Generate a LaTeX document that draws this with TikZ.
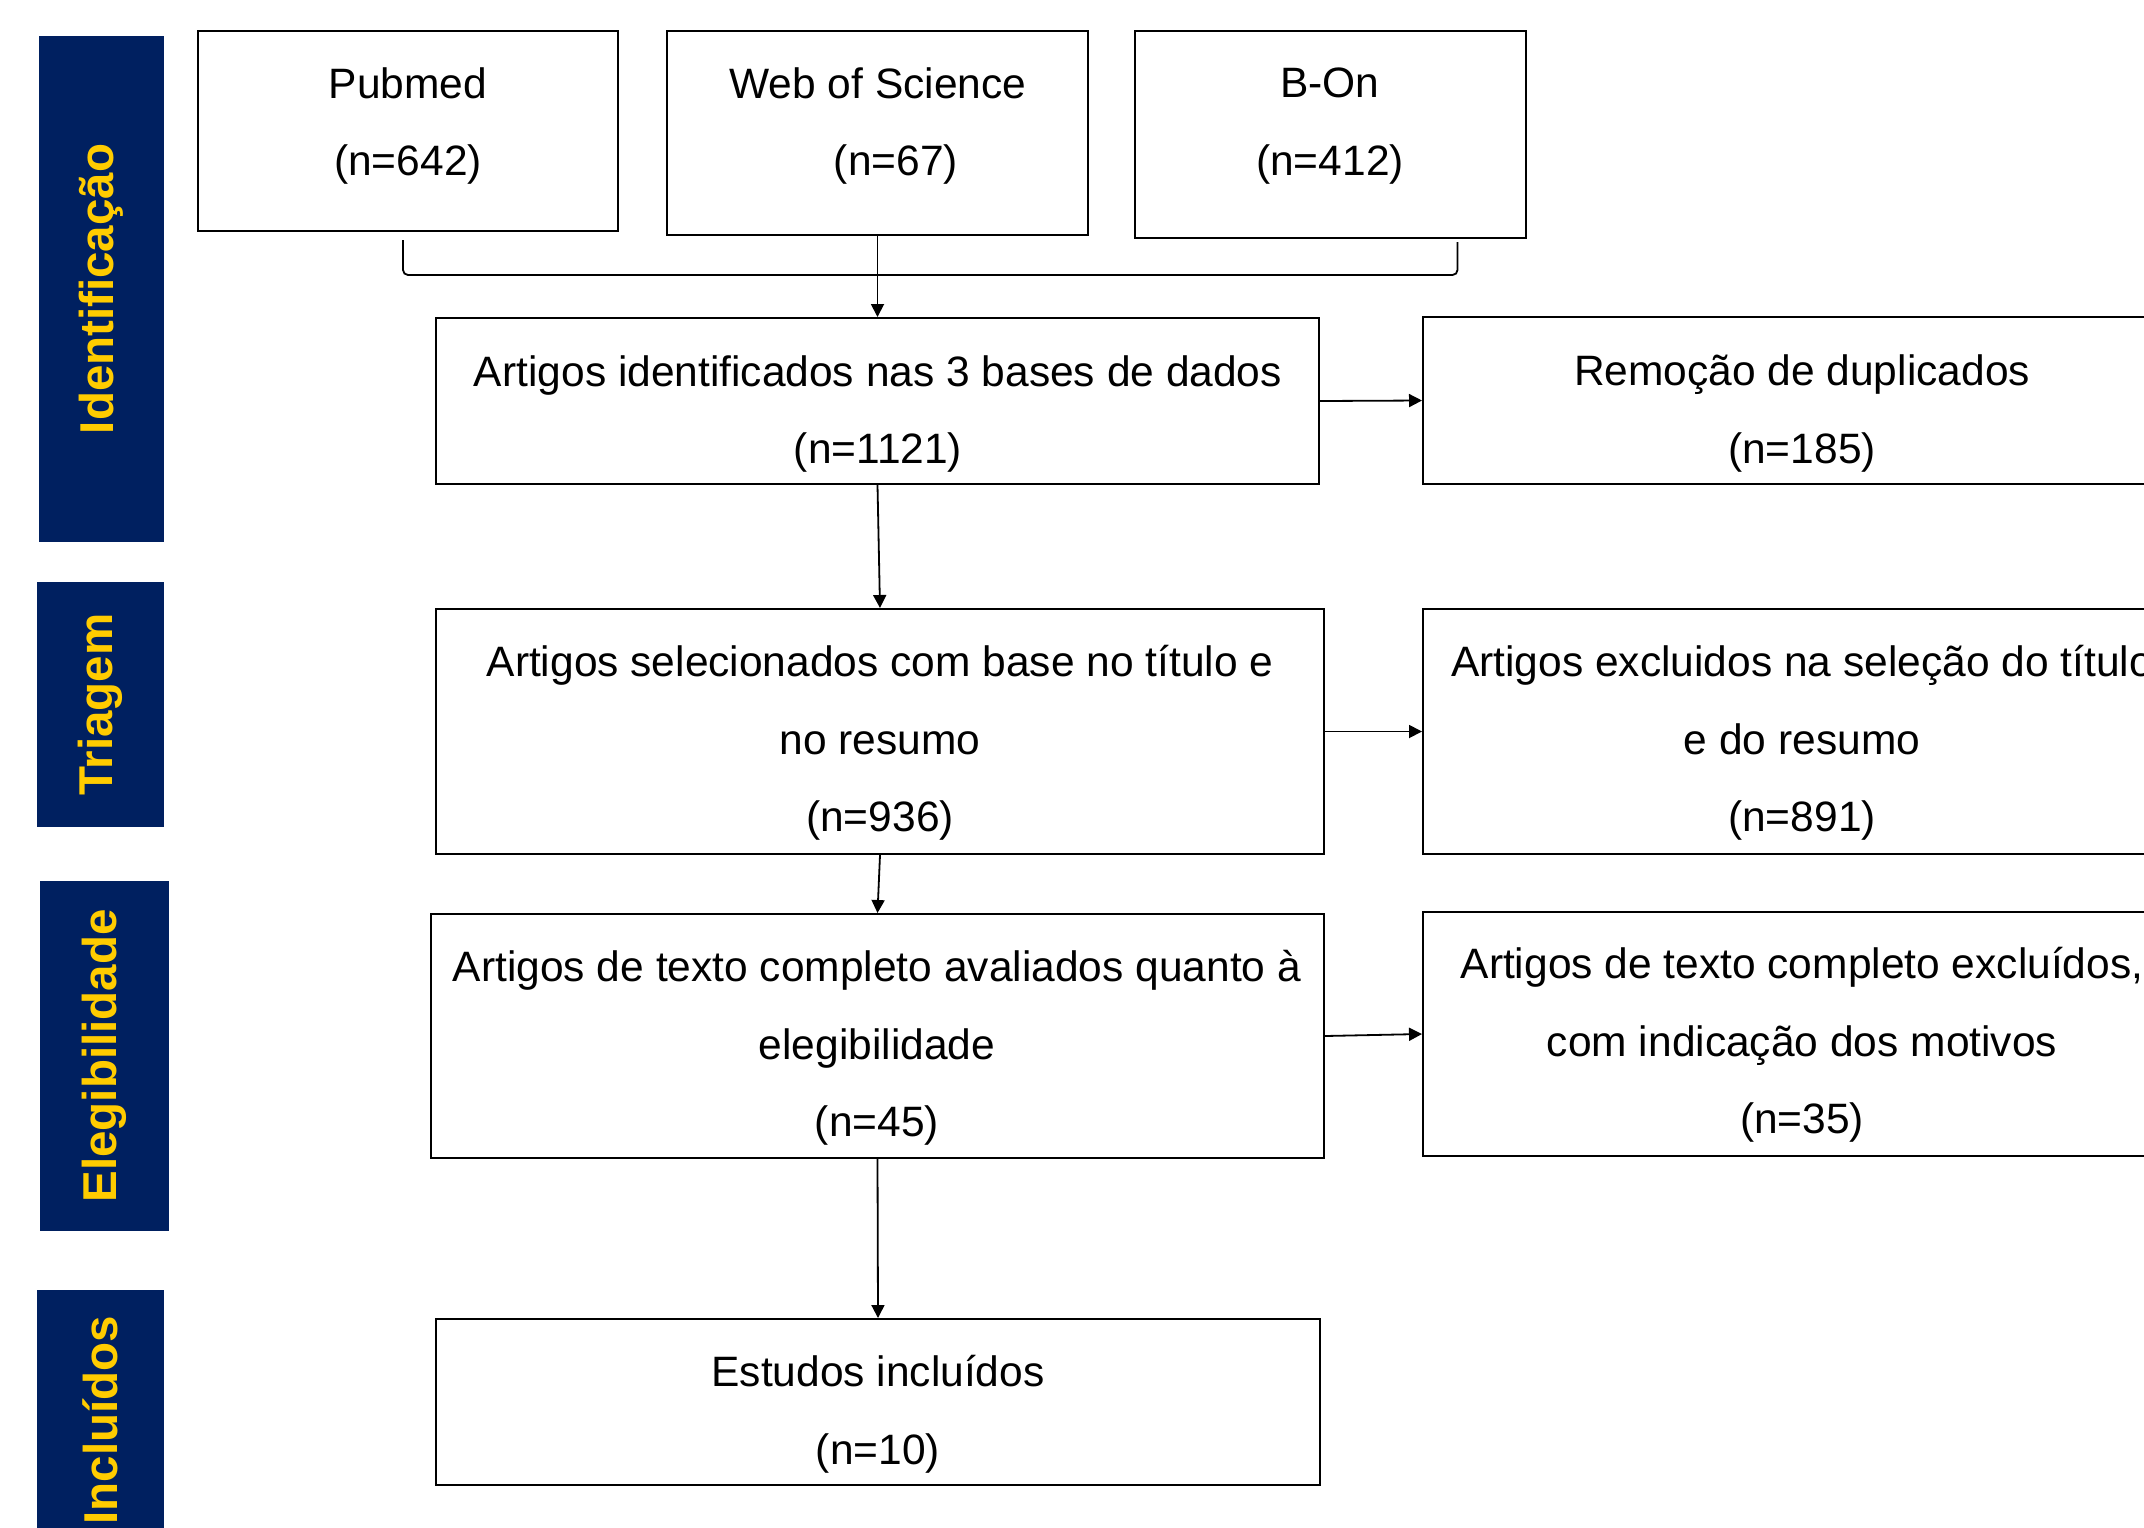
\documentclass[tikz,border=0pt]{standalone}
\usepackage{fontspec}
\setmainfont{Liberation Sans}
\usetikzlibrary{arrows.meta,calc}
\definecolor{navy}{RGB}{0,32,96}
\definecolor{gold}{RGB}{255,204,0}
\tikzset{
  box/.style={draw=black, line width=2pt, inner sep=0pt},
  txt/.style={align=center, inner sep=0pt, font=\fontsize{42.5}{77.5}\selectfont},
  bar/.style={fill=navy, draw=none, rotate=90, inner sep=0pt, text=gold,
    font=\fontsize{47.5}{57}\bfseries\selectfont},
  link/.style={line width=1.8pt},
  arr/.style={line width=1.8pt, -{Triangle[length=13pt,width=13pt]}},
}
\begin{document}
\begin{tikzpicture}[x=1pt,y=-1pt]
\useasboundingbox (0,0) rectangle (2144,1527);
\clip (0,0) rectangle (2144,1527);
\fill[white] (0,0) rectangle (2144,1527);

% side bars
\node[bar, minimum width=506, minimum height=125] (b1) at (101.5,289) {Identificação};
\node[bar, minimum width=245, minimum height=127] (b2) at (100.5,704.5) {Triagem};
\node[bar, minimum width=350, minimum height=129] (b3) at (104.5,1056) {Elegibilidade};
\node[bar, minimum width=260, minimum height=127] (b4) at (100.5,1420) {Incluídos};

% boxes
\node[box, minimum width=420, minimum height=200] (pub) at (408,131) {};
\node[box, minimum width=421, minimum height=204] (wos) at (877.5,133) {};
\node[box, minimum width=391, minimum height=207] (bon) at (1330.5,134.5) {};
\node[box, minimum width=883, minimum height=166] (ident) at (877.5,401) {};
\node[box, minimum width=758, minimum height=167] (remo) at (1802,400.5) {};
\node[box, minimum width=888, minimum height=245] (sel) at (880,731.5) {};
\node[box, minimum width=758, minimum height=245] (exc1) at (1802,731.5) {};
\node[box, minimum width=893, minimum height=244] (eleg) at (877.5,1036) {};
\node[box, minimum width=758, minimum height=244] (exc2) at (1802,1034) {};
\node[box, minimum width=884, minimum height=166] (est) at (878,1402) {};

% texts
\node[txt] (pubt) at (408,126) {Pubmed\\(n=642)};
\node[txt] (wost) at (878,126) {Web of Science\\\hspace*{36pt}(n=67)};
\node[txt] (bont) at (1330,126) {B-On\\(n=412)};
\node[txt] (identt) at (878,414) {Artigos identificados nas 3 bases de dados\\(n=1121)};
\node[txt] (remot) at (1802,413.5) {Remoção de duplicados\\(n=185)};
\node[txt] (selt) at (880,743) {Artigos selecionados com base no título e\\no resumo\\(n=936)};
\node[txt] (exc1t) at (1802,743) {Artigos excluidos na seleção do título\\e do resumo\\(n=891)};
\node[txt] (elegt) at (877,1048) {Artigos de texto completo avaliados quanto à\\elegibilidade\\(n=45)};
\node[txt] (exc2t) at (1802,1045) {Artigos de texto completo excluídos,\\com indicação dos motivos\\(n=35)};
\node[txt] (estt) at (878,1414) {Estudos incluídos\\(n=10)};

% bracket joining the three sources
\coordinate (bl) at ($(pub.south)+(-5,8)$);
\coordinate (br) at ($(bon.south)+(127,3)$);
\coordinate (hy) at (0,275);
\draw[link, rounded corners=5pt] (bl) -- (bl |- hy) -- (br |- hy) -- (br);

% arrows
\draw[arr] (wos.south) -- (ident.north);
\draw[arr] (ident.south) -- (sel.north);
\draw[arr] (sel.south) -- (eleg.north);
\draw[arr] (eleg.south) -- (est.north);
\draw[arr] (ident.east) -- (remo.west);
\draw[arr] (sel.east) -- (exc1.west);
\draw[arr] (eleg.east) -- (exc2.west);
\end{tikzpicture}
\end{document}
